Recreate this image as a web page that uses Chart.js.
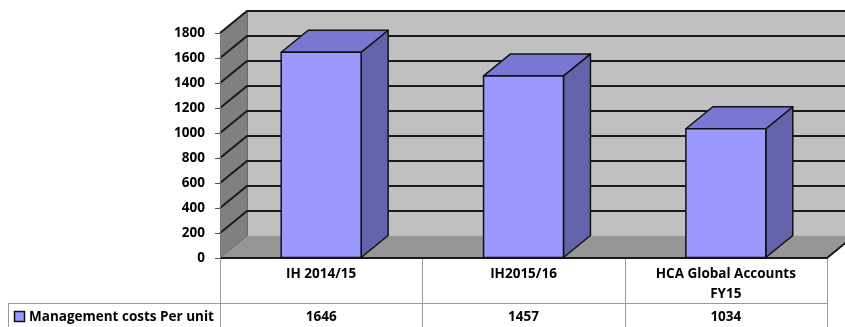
<!DOCTYPE html>
<html><head><meta charset="utf-8">
<script src="https://cdn.jsdelivr.net/npm/chart.js@4/dist/chart.umd.min.js"></script>
<style>html,body{margin:0;padding:0;background:#fff;}#wrap{width:845px;height:327px;position:relative;}</style>
</head><body><div id="wrap"><canvas id="c"></canvas></div>
<script>
const categories = [["IH 2014/15"], ["IH2015/16"], ["HCA Global Accounts", "FY15"]];
const seriesName = "Management costs Per unit";
const values = [1646, 1457, 1034];
const yMin = 0, yMax = 1800, yStep = 200;

const DX = 27, DY = -22;
const FONT = "'Open Sans', 'Noto Sans', sans-serif";
const FONT_SIZE = 13.5;
const colors = {front:'#9999ff', top:'#7878d2', side:'#6363ab', back:'#c0c0c0', floor:'#969696', wall:'#808080', grid:'#1a1a1a', table:'#9a9a9a'};

const walls = {
  id:'walls',
  beforeDraw(chart){
    const {ctx, chartArea:a, scales:{y}} = chart;
    ctx.save();
    ctx.fillStyle = colors.back;
    ctx.fillRect(a.left+DX, a.top+DY, a.right - a.left + 2, a.bottom - a.top);
    ctx.fillStyle = colors.wall;
    ctx.beginPath(); ctx.moveTo(a.left, a.top); ctx.lineTo(a.left+DX, a.top+DY); ctx.lineTo(a.left+DX, a.bottom+DY); ctx.lineTo(a.left, a.bottom); ctx.closePath(); ctx.fill();
    ctx.fillStyle = colors.floor;
    ctx.beginPath(); ctx.moveTo(a.left, a.bottom); ctx.lineTo(a.left+DX, a.bottom+DY); ctx.lineTo(a.right+DX, a.bottom+DY); ctx.lineTo(a.right, a.bottom); ctx.closePath(); ctx.fill();
    ctx.strokeStyle = '#6a6a6a'; ctx.lineWidth = 1;
    ctx.beginPath(); ctx.moveTo(a.left+DX+0.5, a.top+DY); ctx.lineTo(a.left+DX+0.5, a.bottom+DY); ctx.stroke();
    ctx.beginPath(); ctx.moveTo(a.left, a.bottom); ctx.lineTo(a.left+DX, a.bottom+DY); ctx.stroke();
    ctx.strokeStyle = colors.grid; ctx.lineWidth = 2;
    for (let v = yMin + yStep; v <= yMax; v += yStep) {
      const py = Math.round(y.getPixelForValue(v));
      ctx.beginPath(); ctx.moveTo(a.left, py); ctx.lineTo(a.left+DX, py+DY); ctx.lineTo(a.right+DX+2, py+DY); ctx.stroke();
    }
    ctx.beginPath(); ctx.moveTo(a.left, a.bottom); ctx.lineTo(a.right, a.bottom); ctx.lineTo(a.right+DX, a.bottom+DY); ctx.stroke();
    ctx.restore();
  }
};

const bars3d = {
  id:'bars3d',
  afterDatasetsDraw(chart){
    const ctx = chart.ctx; const meta = chart.getDatasetMeta(0);
    meta.data.forEach(bar => {
      const {x, y, width, base} = bar.getProps(['x','y','width','base'], true);
      const l = x - width/2, r = x + width/2;
      ctx.save(); ctx.lineWidth = 1.5; ctx.strokeStyle = '#111'; ctx.lineJoin = 'round';
      ctx.fillStyle = colors.side;
      ctx.beginPath(); ctx.moveTo(r,y); ctx.lineTo(r+DX,y+DY); ctx.lineTo(r+DX,base+DY); ctx.lineTo(r,base); ctx.closePath(); ctx.fill(); ctx.stroke();
      ctx.fillStyle = colors.top;
      ctx.beginPath(); ctx.moveTo(l,y); ctx.lineTo(l+DX,y+DY); ctx.lineTo(r+DX,y+DY); ctx.lineTo(r,y); ctx.closePath(); ctx.fill(); ctx.stroke();
      ctx.fillStyle = colors.front;
      ctx.beginPath(); ctx.rect(l,y,width,base-y); ctx.fill(); ctx.stroke();
      ctx.restore();
    });
  }
};

const dataTable = {
  id:'dataTable',
  afterDraw(chart){
    const {ctx, chartArea:a, scales:{x}} = chart;
    const rowSplit = a.bottom + 45, bottom = chart.height + 2;
    const n = categories.length, cw = (a.right - a.left) / n;
    ctx.save();
    ctx.strokeStyle = colors.table; ctx.lineWidth = 1;
    const vx = [a.left]; for (let i = 1; i <= n; i++) vx.push(a.left + cw*i);
    vx.forEach(px => { const xx = Math.round(px) + 0.5; ctx.beginPath(); ctx.moveTo(xx, a.bottom+1); ctx.lineTo(xx, bottom); ctx.stroke(); });
    ctx.beginPath(); ctx.moveTo(8.5, rowSplit+0.5); ctx.lineTo(Math.round(a.right)+0.5, rowSplit+0.5); ctx.stroke();
    ctx.beginPath(); ctx.moveTo(8.5, rowSplit); ctx.lineTo(8.5, bottom); ctx.stroke();
    ctx.fillStyle = '#000'; ctx.textAlign = 'center'; ctx.textBaseline = 'middle';
    ctx.font = "bold " + FONT_SIZE + "px " + FONT;
    categories.forEach((lines, i) => {
      const cx = x.getPixelForValue(i);
      lines.forEach((t, j) => ctx.fillText(t, cx, a.bottom + 16 + j*20));
      ctx.fillText(String(values[i]), cx, rowSplit + 14);
    });
    ctx.textAlign = 'left';
    ctx.fillText(seriesName, 29, rowSplit + 14);
    ctx.fillStyle = colors.front; ctx.strokeStyle = '#111'; ctx.lineWidth = 1.5;
    ctx.beginPath(); ctx.rect(14.5, rowSplit + 8.5, 10, 10); ctx.fill(); ctx.stroke();
    ctx.restore();
  }
};

new Chart(document.getElementById('c'), {
  type: 'bar',
  data: { labels: categories, datasets: [{ label: seriesName, data: values, backgroundColor: 'rgba(0,0,0,0)', borderWidth: 0, barPercentage: 0.395, categoryPercentage: 1 }] },
  options: {
    responsive: true, maintainAspectRatio: false, animation: false,
    layout: { padding: { top: 33, right: 18, bottom: 69, left: 0 } },
    plugins: { legend: { display: false }, tooltip: { enabled: false } },
    scales: {
      x: { display: false },
      y: {
        min: yMin, max: yMax,
        ticks: { stepSize: yStep, color: '#000', padding: 10, font: { family: FONT, weight: 'bold', size: FONT_SIZE }, callback: v => String(v) },
        grid: { drawOnChartArea: false, drawTicks: true, tickLength: 5, color: '#555' },
        border: { display: true, color: '#777' },
        afterFit(s) { s.width = 220; }
      }
    }
  },
  plugins: [walls, bars3d, dataTable]
});
</script></body></html>
